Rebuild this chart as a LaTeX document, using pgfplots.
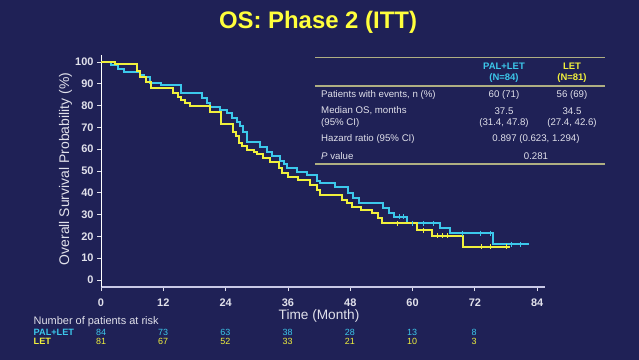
\documentclass[border=0pt]{standalone}
\usepackage{pgfplots}
\pgfplotsset{compat=1.18}
\usepackage{fontspec}
\setmainfont{Liberation Sans}
\definecolor{bg}{RGB}{31,33,86}
\definecolor{cy}{RGB}{60,200,235}
\definecolor{yl}{RGB}{240,240,60}
\definecolor{ttl}{RGB}{255,255,60}
\definecolor{txt}{RGB}{225,225,235}
\definecolor{rulec}{RGB}{175,175,130}
\definecolor{xax}{RGB}{200,200,230}
\begin{document}
\begin{tikzpicture}
\path[use as bounding box, fill=bg] (0,0) rectangle (639bp,-360bp);
\begin{axis}[
  at={(101bp,-287bp)}, anchor=south west,
  scale only axis, width=444bp, height=232bp,
  xmin=0, xmax=85.5, ymin=-3.2, ymax=103.2,
  axis x line*=bottom, axis y line*=left,
  x axis line style={draw=xax, line width=1.8bp, -},
  y axis line style={draw=white, line width=1bp, -},
  xtick={0,12,...,84}, ytick={0,10,...,100},
  tick align=outside, major tick length=4bp,
  tick style={draw=txt, line width=0.8bp},
  xticklabel style={font=\bfseries\fontsize{11}{12}\selectfont, text=txt, yshift=-4bp},
  yticklabel style={font=\bfseries\fontsize{11}{12}\selectfont, text=txt},
  /pgf/number format/assume math mode=true,
  clip=false,
]
\addplot[cy, line width=2bp, const plot] coordinates {
(0,100) (1.9,98.7) (3.3,96.6) (4.5,95.5) (7.5,94) (8.3,93) (9.5,90.5) (11.5,89.4)
(15.5,85.6) (19.4,83.3) (20.4,81) (21,79.5) (22.9,78) (24.2,76.5) (25.2,74.5) (26.1,72.5)
(26.8,70.5) (27.4,68) (28.1,63.4) (30.6,61) (31.9,58.9) (32.9,57) (34.5,54.5)
(35.2,53) (35.8,51.3) (37.7,49.7) (39.6,48.2) (41.6,45.5) (42.2,44.4) (45,42.8)
(47.6,39.8) (48.5,37.5) (49.6,35.2) (54.3,32.9) (55.5,30.6) (56.5,29) (58.9,26)
(65.3,23.7) (67.2,21.5) (75.4,16.4) (82.5,16.4)};
\addplot[yl, line width=2bp, const plot] coordinates {
(0,100) (2.7,99) (6.9,96) (7.6,93) (8.6,91) (9.6,88) (13.9,85.6) (14.8,84)
(15.5,82.6) (16.2,81.2) (17.1,79.8) (21,77.2) (23.2,71.5) (25.5,68) (26,66)
(26.6,63) (27.2,61.5) (28.1,59.6) (29.5,58.5) (30,58) (31.2,55.8) (32.6,54.3)
(34.2,51.2) (34.8,48.9) (36.1,47.4) (38,45.9) (40.3,43.6) (41.6,41.3) (42.2,39)
(46.4,36.7) (47.3,35.2) (48.3,33.6) (50.1,32.1) (52.2,30.6) (53.3,28.3) (54.2,26)
(60.8,22.9) (63.7,20.2) (69.8,15.3) (78.8,15.3)};
\addplot[cy, only marks, mark=|, mark size=2.5bp, line width=0.6bp] coordinates {
(57.5,29) (58.3,29) (60,26) (62,26) (64,26) (69.5,21.5) (73,21.5) (75,21.5) (79,16.4) (80.7,16.4)};
\addplot[yl, only marks, mark=|, mark size=2.5bp, line width=0.6bp] coordinates {
(57,26) (62,22.9) (64.7,20.2) (65.7,20.2) (66.7,20.2) (73.3,15.3) (75,15.3) (78,15.3)};
\end{axis}
% title
\node[font=\bfseries\fontsize{24}{28}\selectfont, text=ttl] at (318bp,-22bp) {OS: Phase 2 (ITT)};
% axis labels
\node[font=\fontsize{14}{16}\selectfont, text=txt, rotate=90] at (65.5bp,-169bp) {Overall Survival Probability (\%)};
\node[font=\fontsize{13.7}{16}\selectfont, text=txt] at (319bp,-316bp) {Time (Month)};
% table
\draw[rulec, line width=1.5bp] (315bp,-57.3bp) -- (605bp,-57.3bp);
\draw[rulec, line width=1.5bp] (315bp,-86bp) -- (605bp,-86bp);
\draw[rulec, line width=1.5bp] (315bp,-164bp) -- (605bp,-164bp);
\begin{scope}[every node/.style={font=\fontsize{9.7}{11}\selectfont, text=txt, inner sep=0pt}]
\node[font=\bfseries\fontsize{9.5}{11}\selectfont, text=cy] at (504bp,-66bp) {PAL+LET};
\node[font=\bfseries\fontsize{9.5}{11}\selectfont, text=cy] at (504bp,-78bp) {(N=84)};
\node[font=\bfseries\fontsize{9.5}{11}\selectfont, text=yl] at (572bp,-66bp) {LET};
\node[font=\bfseries\fontsize{9.5}{11}\selectfont, text=yl] at (572bp,-78bp) {(N=81)};
\node[anchor=west] at (321bp,-95bp) {Patients with events, n (\%)};
\node[anchor=west] at (321bp,-111bp) {Median OS, months};
\node[anchor=west] at (321bp,-123bp) {(95\% CI)};
\node[anchor=west] at (321bp,-139bp) {Hazard ratio (95\% CI)};
\node[anchor=west] at (321bp,-156bp) {\textit{P} value};
\node at (504bp,-95bp) {60 (71)};
\node at (572bp,-95bp) {56 (69)};
\node at (504bp,-111bp) {37.5};
\node at (504bp,-123bp) {(31.4, 47.8)};
\node at (572bp,-111bp) {34.5};
\node at (572bp,-123bp) {(27.4, 42.6)};
\node at (536bp,-139bp) {0.897 (0.623, 1.294)};
\node at (536bp,-156bp) {0.281};
\end{scope}
% at risk
\node[anchor=west, inner sep=0pt, font=\fontsize{11}{12}\selectfont, text=txt] at (33.5bp,-321.5bp) {Number of patients at risk};
\node[anchor=west, inner sep=0pt, font=\bfseries\fontsize{9.2}{10}\selectfont, text=cy] at (33.5bp,-332bp) {PAL+LET};
\node[anchor=west, inner sep=0pt, font=\bfseries\fontsize{9.2}{10}\selectfont, text=yl] at (33.5bp,-341.7bp) {LET};
\foreach \i/\a/\b in {0/84/81,1/73/67,2/63/52,3/38/33,4/28/21,5/13/10,6/8/3} {
  \node[inner sep=0pt, font=\fontsize{9}{10}\selectfont, text=cy] at ({101bp+62.2bp*\i},-332bp) {\a};
  \node[inner sep=0pt, font=\fontsize{9}{10}\selectfont, text=yl] at ({101bp+62.2bp*\i},-341.7bp) {\b};
}
\end{tikzpicture}
\end{document}
